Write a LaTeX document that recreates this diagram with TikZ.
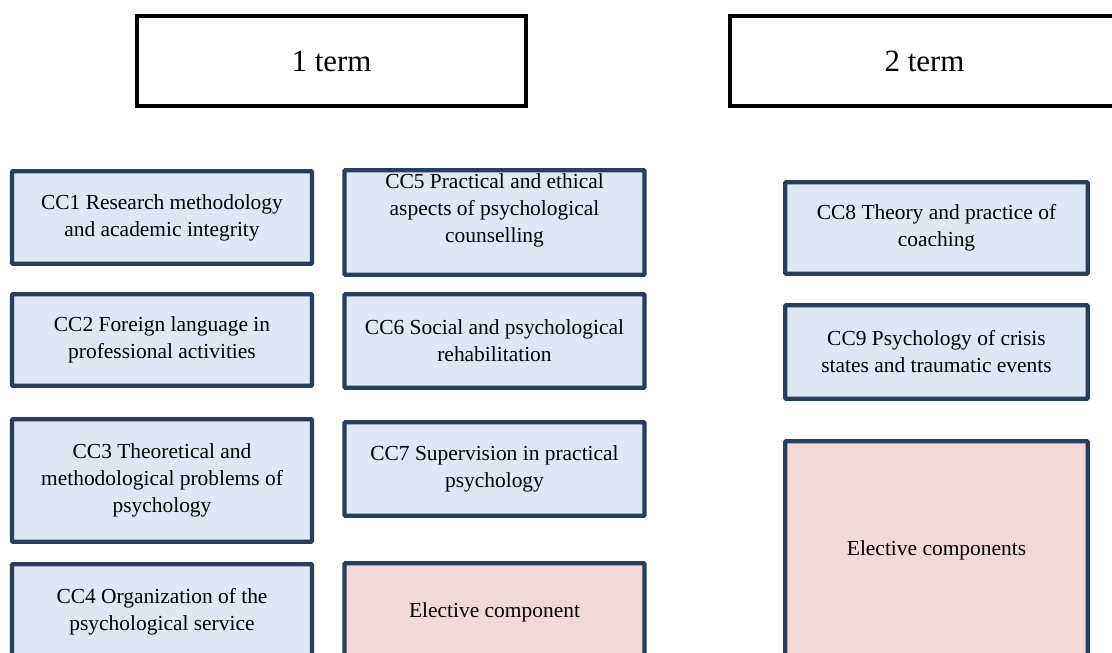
\documentclass[tikz,border=0pt]{standalone}
\usepackage{fontspec}
\setmainfont{Liberation Serif}
\usepackage{tikz}
\definecolor{boxline}{HTML}{2C3E57}
\definecolor{corefill}{HTML}{DFE6F4}
\definecolor{electfill}{HTML}{F1D9DA}
\newcommand{\colA}{3.24}
\newcommand{\colB}{9.89}
\newcommand{\colC}{18.73}
\newcommand{\termy}{-1.22}
\tikzset{
  term/.style={draw=black, line width=2.5pt, fill=white, minimum width=7.77cm, minimum height=1.79cm,
    font=\fontsize{17.6pt}{21pt}\selectfont},
  core/.style={draw=boxline, line width=2.5pt, fill=corefill, align=center, minimum width=6cm,
    rounded corners=0.6pt, inner sep=0pt, font=\fontsize{12.2pt}{15.3pt}\selectfont},
  elective/.style={core, fill=electfill},
  coretext/.style={align=center, inner sep=0pt, font=\fontsize{12.2pt}{15.3pt}\selectfont}
}

\begin{document}
\begin{tikzpicture}

\useasboundingbox (0,0) rectangle (22.24,-13.06);
\clip (0,0) rectangle (22.24,-13.06);

% terms
\node[term] at (6.63,\termy) (term1) {1 term};
\node[term] at (18.49,\termy) (term2) {2 term};

% first column
\node[core, minimum height=1.85cm] at (\colA,-4.35) (cc1) {CC1 Research methodology\\and academic integrity};
\node[core, minimum height=1.83cm] at (\colA,-6.80) (cc2) {CC2 Foreign language in\\professional activities};
\node[core, minimum height=2.45cm] at (\colA,-9.61) (cc3) {CC3 Theoretical and\\methodological problems of\\psychology};
\node[core, minimum height=1.91cm] at (\colA,-12.24) (cc4) {CC4 Organization of the\\psychological service};

% second column
\node[core, minimum height=2.09cm] at (\colB,-4.45) (cc5) {};
\node[coretext] at (\colB,-4.20) (cc5text) {CC5 Practical and ethical\\aspects of psychological\\counselling};
\node[core, minimum height=1.87cm] at (\colB,-6.82) (cc6) {CC6 Social and psychological\\rehabilitation};
\node[core, minimum height=1.87cm] at (\colB,-9.38) (cc7) {CC7 Supervision in practical\\psychology};
\node[elective, minimum height=1.95cm] at (\colB,-12.24) (elect1) {Elective component};

% second term
\node[core, minimum width=6.05cm, minimum height=1.83cm] at (\colC,-4.56) (cc8) {CC8 Theory and practice of\\coaching};
\node[core, minimum width=6.05cm, minimum height=1.87cm] at (\colC,-7.04) (cc9) {CC9 Psychology of crisis\\states and traumatic events};
\node[elective, minimum width=6.05cm, minimum height=4.35cm] at (\colC,-11.0) (elect2) {Elective components};

\end{tikzpicture}
\end{document}
